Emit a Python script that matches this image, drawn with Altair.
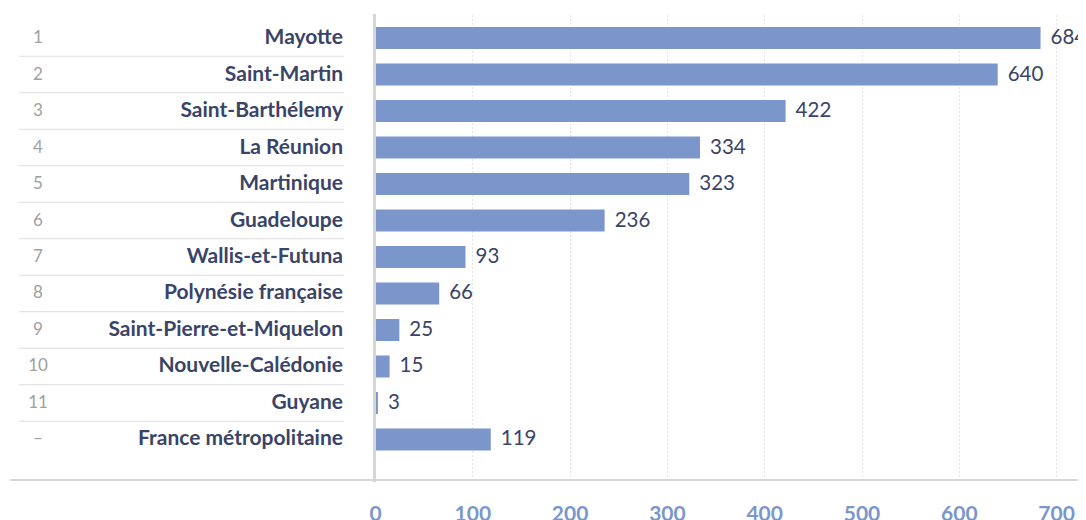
import altair as alt
import pandas as pd

names = ["Mayotte", "Saint-Martin", "Saint-Barthélemy", "La Réunion", "Martinique",
         "Guadeloupe", "Wallis-et-Futuna", "Polynésie française",
         "Saint-Pierre-et-Miquelon", "Nouvelle-Calédonie", "Guyane",
         "France métropolitaine"]
values = [684, 640, 422, 334, 323, 236, 93, 66, 25, 15, 3, 119]
ranks = ["1", "2", "3", "4", "5", "6", "7", "8", "9", "10", "11", "–"]
x_ticks = [0, 100, 200, 300, 400, 500, 600, 700]

df = pd.DataFrame({"name": names, "value": values, "rank": ranks,
                   "pos": list(range(len(names)))})
seps = pd.DataFrame({"pos": [i + 0.5 for i in range(len(names) - 1)]})

W, H = 703, 466
NAVY = "#3a4466"
BLUE = "#7b96cb"
FONT = "Lato"

xs = alt.Scale(domain=[0, 722.5], nice=False, zero=False)
ys = alt.Scale(domain=[-0.658, 12.11], reverse=True, nice=False, zero=False)

base = alt.Chart(df)

grid = base.mark_rule(opacity=0).encode(
    x=alt.X("value:Q", scale=xs,
            axis=alt.Axis(values=x_ticks, title=None, domain=False, ticks=False,
                          grid=True, gridDash=[1, 3], gridColor="#c8c8c8",
                          gridWidth=1, labelFont=FONT, labelFontSize=21,
                          labelFontWeight="bold", labelColor=BLUE,
                          labelPadding=23, labelFlush=False)),
    y=alt.Y("pos:Q", scale=ys, axis=None),
)

vline = alt.Chart(df).mark_rule(color="#d6d6d6", strokeWidth=2).encode(
    x=alt.value(-0.5), y=alt.value(0), y2=alt.value(H + 2))

hline = alt.Chart(df).mark_rule(color="#d6d6d6", strokeWidth=2).encode(
    y=alt.value(H), x=alt.value(-365), x2=alt.value(W))

sep = alt.Chart(seps).mark_rule(color="#dedede", strokeWidth=1).encode(
    y=alt.Y("pos:Q", scale=ys), x=alt.value(-356), x2=alt.value(-31))

bars = base.transform_calculate(
    y0="datum.pos - 0.3014", y1="datum.pos + 0.3014"
).mark_rect(color=BLUE).encode(
    x=alt.X("value:Q", scale=xs), x2=alt.datum(0),
    y=alt.Y("y0:Q", scale=ys), y2="y1:Q")

vals = base.mark_text(align="left", baseline="middle", dx=10, font=FONT,
                      fontSize=20.5, color=NAVY).encode(
    x=alt.X("value:Q", scale=xs), y=alt.Y("pos:Q", scale=ys), text="value:Q")

labels = base.mark_text(align="right", baseline="middle", font=FONT,
                        fontSize=21, fontWeight="bold", color=NAVY).encode(
    x=alt.value(-32), y=alt.Y("pos:Q", scale=ys), text="name:N")

rk = base.mark_text(align="center", baseline="middle", font=FONT,
                    fontSize=17, color="#a0a0a0").encode(
    x=alt.value(-337), y=alt.Y("pos:Q", scale=ys), text="rank:N")

chart = alt.layer(grid, sep, bars, vline, hline, vals, labels, rk).properties(
    width=W, height=H,
    autosize=alt.AutoSizeParams(type="none"),
    padding={"left": 367, "top": 6, "right": 0, "bottom": 40},
).configure_view(stroke=None)

chart.save("out.html", embed_options={"renderer": "svg", "actions": False})
